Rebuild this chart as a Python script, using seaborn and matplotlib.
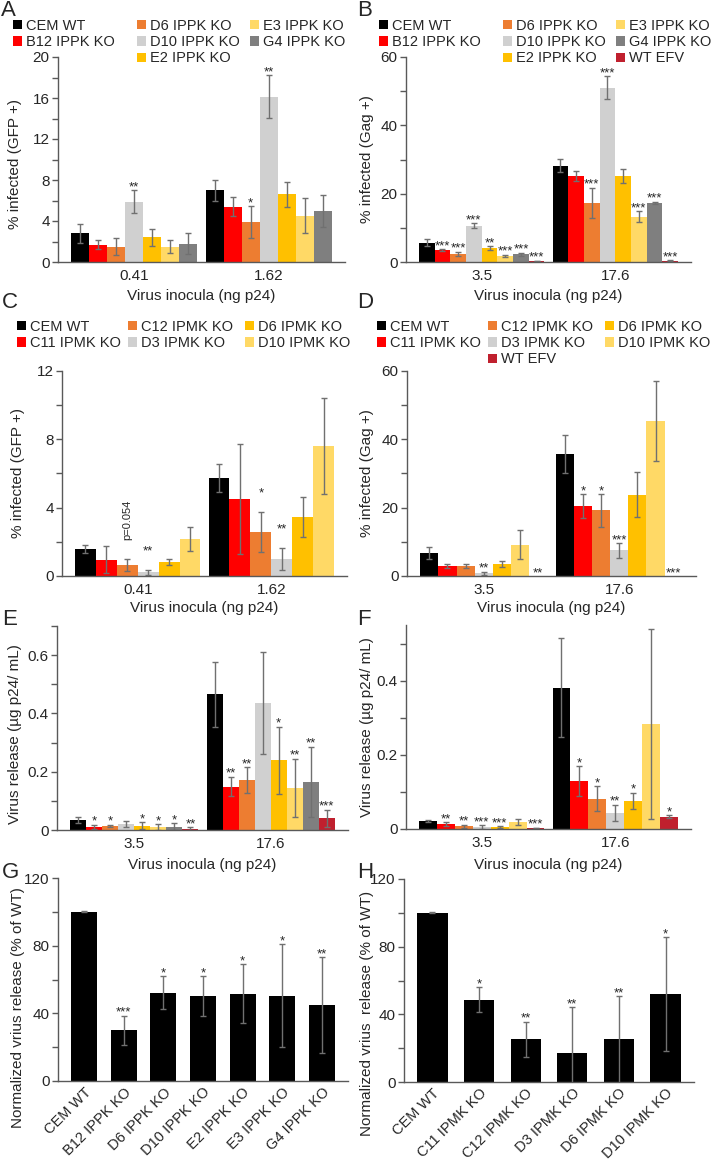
import matplotlib
matplotlib.use("Agg")
import matplotlib.pyplot as plt
import matplotlib.ticker as mticker
from matplotlib.patches import Patch
import pandas as pd
import seaborn as sns

W, H = 712, 1159

# ---- cell lines and colours ----
ippk_lines = ["CEM WT", "B12 IPPK KO", "D6 IPPK KO", "D10 IPPK KO",
              "E2 IPPK KO", "E3 IPPK KO", "G4 IPPK KO"]
ipmk_lines = ["CEM WT", "C11 IPMK KO", "C12 IPMK KO", "D3 IPMK KO",
              "D6 IPMK KO", "D10 IPMK KO"]
efv = "WT EFV"
ippk_colors = ["#000000", "#ff0000", "#ed7d31", "#d0d0d0", "#ffc000", "#ffd966", "#7f7f7f"]
ipmk_colors = ["#000000", "#ff0000", "#ed7d31", "#d0d0d0", "#ffc000", "#ffd966"]
efv_color = "#c0202e"

# ---- A: IPPK KO, GFP+ ----
a_doses = ["0.41", "1.62"]
a_mean = [[2.8, 1.7, 1.5, 5.9, 2.4, 1.5, 1.8],
          [7.0, 5.4, 3.9, 16.1, 6.6, 4.5, 5.0]]
a_err = [[0.9, 0.45, 0.85, 1.1, 0.85, 0.6, 1.0],
         [1.0, 0.9, 1.55, 2.1, 1.2, 1.7, 1.55]]
a_sig = [["", "", "", "**", "", "", ""],
         ["", "", "*", "**", "", "", ""]]

# ---- B: IPPK KO, Gag+ ----
b_doses = ["3.5", "17.6"]
b_mean = [[5.6, 3.5, 2.4, 10.6, 4.1, 1.8, 2.3, 0.35],
          [28.2, 25.1, 17.4, 51.0, 25.1, 13.2, 17.4, 0.4]]
b_err = [[1.0, 0.3, 0.6, 0.75, 0.5, 0.3, 0.4, 0.05],
         [2.0, 1.5, 4.4, 3.4, 2.1, 1.6, 0.3, 0.05]]
b_sig = [["", "***", "***", "***", "**", "***", "***", "***"],
         ["", "", "***", "***", "", "***", "***", "***"]]

# ---- C: IPMK KO, GFP+ ----
c_doses = ["0.41", "1.62"]
c_mean = [[1.58, 0.96, 0.64, 0.22, 0.84, 2.14],
          [5.74, 4.5, 2.58, 1.0, 3.45, 7.6]]
c_err = [[0.23, 0.78, 0.35, 0.15, 0.17, 0.7],
         [0.84, 3.2, 1.17, 0.65, 1.19, 2.8]]
c_sig = [["", "", "p=0.054", "**", "", ""],
         ["", "", "*", "**", "", ""]]

# ---- D: IPMK KO, Gag+ ----
d_doses = ["3.5", "17.6"]
d_mean = [[6.8, 2.9, 2.9, 0.8, 3.5, 9.2, 0.0],
          [35.7, 20.4, 19.2, 7.5, 23.8, 45.4, 0.0]]
d_err = [[1.7, 0.5, 0.5, 0.5, 1.0, 4.3, 0.0],
         [5.6, 3.5, 4.8, 2.1, 6.6, 11.7, 0.0]]
d_sig = [["", "", "", "**", "", "", "**"],
         ["", "*", "*", "***", "", "", "***"]]

# ---- E: IPPK KO, virus release ----
e_doses = ["3.5", "17.6"]
e_mean = [[0.033, 0.010, 0.014, 0.020, 0.014, 0.010, 0.011, 0.005],
          [0.465, 0.149, 0.172, 0.435, 0.239, 0.145, 0.166, 0.040]]
e_err = [[0.010, 0.008, 0.004, 0.010, 0.012, 0.010, 0.012, 0.004],
         [0.110, 0.034, 0.044, 0.175, 0.115, 0.100, 0.120, 0.030]]
e_sig = [["", "*", "*", "", "*", "*", "*", "**"],
         ["", "**", "**", "", "*", "**", "**", "***"]]

# ---- F: IPMK KO, virus release ----
f_doses = ["3.5", "17.6"]
f_mean = [[0.022, 0.013, 0.007, 0.005, 0.005, 0.020, 0.003],
          [0.381, 0.129, 0.082, 0.043, 0.076, 0.283, 0.033]]
f_err = [[0.003, 0.005, 0.004, 0.005, 0.003, 0.008, 0.001],
         [0.133, 0.040, 0.034, 0.022, 0.022, 0.255, 0.004]]
f_sig = [["", "**", "**", "***", "***", "", "***"],
         ["", "*", "*", "**", "*", "", "*"]]

# ---- G / H: normalized release ----
g_mean = [100, 30.0, 52.3, 50.1, 51.5, 50.5, 45.0]
g_err = [0.3, 8.7, 9.8, 11.7, 17.5, 30.5, 28.2]
g_sig = ["", "***", "*", "*", "*", "*", "**"]
h_mean = [100, 48.5, 25.2, 16.9, 25.2, 52.0]
h_err = [0.2, 7.4, 10.4, 27.2, 25.6, 33.7]
h_sig = ["", "*", "**", "**", "**", "*"]

xlab = "Virus inocula (ng p24)"
AXCOL = "#595959"
ERRCOL = "#707070"
GROUP_W = 0.94
FS = 11

sns.set_style("ticks")
plt.rcParams["font.family"] = ["Liberation Sans", "DejaVu Sans"]

fig = plt.figure(figsize=(W / 100, H / 100), dpi=100)


def add_ax(left, top, right, bottom):
    return fig.add_axes([left / W, 1 - bottom / H, (right - left) / W, (bottom - top) / H])


def style(ax, ymax, major, minor):
    sns.despine(ax=ax)
    ax.set_ylim(0, ymax)
    ax.yaxis.set_major_locator(mticker.MultipleLocator(major))
    ax.yaxis.set_minor_locator(mticker.MultipleLocator(minor))
    ax.yaxis.set_major_formatter(mticker.FuncFormatter(lambda v, p: f"{v:g}"))
    ax.tick_params(axis="y", which="both", direction="out", length=4, width=1,
                   color=AXCOL, pad=2, labelsize=FS)
    ax.tick_params(axis="x", length=0, pad=5, labelsize=FS)
    for s in ["left", "bottom"]:
        ax.spines[s].set_color(AXCOL)
        ax.spines[s].set_linewidth(1)


def labels(ax, ylabel, ylab_x, ylab_frac=0.5, xlabel=None, xlab_y=None):
    bb = ax.get_position()
    left, width = bb.x0 * W, bb.width * W
    bottom, height = (1 - bb.y0) * H, bb.height * H
    ax.set_ylabel(ylabel, fontsize=FS)
    ax.yaxis.set_label_coords((ylab_x + 7 - left) / width, ylab_frac)
    if xlabel:
        ax.set_xlabel(xlabel, fontsize=FS)
        ax.xaxis.set_label_coords(0.5, -(xlab_y - 8 - bottom) / height)
    else:
        ax.set_xlabel("")


def mark(ax, cx, top, s, gap):
    if not s:
        return
    if s.startswith("p="):
        ax.annotate(s, (cx, top), xytext=(0, gap + 3), textcoords="offset points",
                    ha="center", va="bottom", rotation=90, fontsize=8)
    else:
        ax.annotate(s, (cx, top), xytext=(0, gap), textcoords="offset points",
                    ha="center", va="baseline", fontsize=9.5)


def grouped(ax, doses, lines, colors, means, errs, sigs, gap=0):
    rows = []
    for d, m_row in zip(doses, means):
        for line, m in zip(lines, m_row):
            rows.append({"dose": d, "line": line, "value": m})
    df = pd.DataFrame(rows)
    sns.barplot(data=df, x="dose", y="value", hue="line", order=doses, hue_order=lines,
                palette=dict(zip(lines, colors)), width=GROUP_W, saturation=1,
                errorbar=None, legend=False, linewidth=0, ax=ax)
    for bar in ax.patches:
        cx = bar.get_x() + bar.get_width() / 2
        i = int(round(cx))
        j = int(round((bar.get_x() - (i - GROUP_W / 2)) / bar.get_width()))
        h = bar.get_height()
        e = errs[i][j]
        if e > 0:
            ax.errorbar(cx, h, yerr=e, fmt="none", ecolor=ERRCOL, elinewidth=1,
                        capsize=2.5, capthick=1)
        mark(ax, cx, h + e, sigs[i][j], gap)


def single(ax, lines, means, errs, sigs):
    sns.barplot(x=lines, y=means, order=lines, color="black", width=0.65,
                saturation=1, errorbar=None, linewidth=0, ax=ax)
    for bar in ax.patches:
        cx = bar.get_x() + bar.get_width() / 2
        i = int(round(cx))
        h = bar.get_height()
        ax.errorbar(cx, h, yerr=errs[i], fmt="none", ecolor=ERRCOL, elinewidth=1,
                    capsize=2.5, capthick=1)
        mark(ax, cx, h + errs[i], sigs[i], 0)
    for t in ax.get_xticklabels():
        t.set_rotation(45)
        t.set_ha("right")
        t.set_rotation_mode("anchor")


def legend_cols(columns, cmap, xs, y_top):
    for names, x in zip(columns, xs):
        handles = [Patch(facecolor=cmap[n], edgecolor="none") for n in names]
        fig.legend(handles, names, loc="upper left",
                   bbox_to_anchor=(x / W, 1 - y_top / H), frameon=False,
                   borderpad=0, borderaxespad=0, handlelength=0.6, handleheight=0.6,
                   handletextpad=0.3, labelspacing=0.15, fontsize=10.5)


ippk_cmap = dict(zip(ippk_lines, ippk_colors))
ippk_cmap[efv] = efv_color
ipmk_cmap = dict(zip(ipmk_lines, ipmk_colors))
ipmk_cmap[efv] = efv_color

# ---- A ----
axA = add_ax(58, 57, 345, 262)
grouped(axA, a_doses, ippk_lines, ippk_colors, a_mean, a_err, a_sig)
style(axA, 20, 4, 2)
labels(axA, "% infected (GFP +)", 15, 0.48, xlab, 297)
legend_cols([ippk_lines[:2], ippk_lines[2:5], ippk_lines[5:]], ippk_cmap, [13, 137, 250], 19)

# ---- B ----
axB = add_ax(406, 57, 691, 262)
grouped(axB, b_doses, ippk_lines + [efv], ippk_colors + [efv_color], b_mean, b_err, b_sig)
style(axB, 60, 20, 10)
labels(axB, "% infected (Gag +)", 367, 0.5, xlab, 297)
legend_cols([ippk_lines[:2], ippk_lines[2:5], ippk_lines[5:] + [efv]], ippk_cmap,
            [379, 503, 616], 19)

# ---- C ----
axC = add_ax(62, 371, 347, 576)
grouped(axC, c_doses, ipmk_lines, ipmk_colors, c_mean, c_err, c_sig, gap=11)
style(axC, 12, 4, 2)
labels(axC, "% infected (GFP +)", 18, 0.5, xlab, 609)
legend_cols([ipmk_lines[:2], ipmk_lines[2:4], ipmk_lines[4:]], ipmk_cmap, [17, 128, 245], 320)

# ---- D ----
axD = add_ax(407, 371, 696, 576)
grouped(axD, d_doses, ipmk_lines + [efv], ipmk_colors + [efv_color], d_mean, d_err, d_sig)
style(axD, 60, 20, 10)
labels(axD, "% infected (Gag +)", 367, 0.5, xlab, 609)
legend_cols([ipmk_lines[:2], ipmk_lines[2:4] + [efv], ipmk_lines[4:]], ipmk_cmap,
            [377, 488, 605], 320)

# ---- E ----
axE = add_ax(57, 626, 348, 830)
grouped(axE, e_doses, ippk_lines + [efv], ippk_colors + [efv_color], e_mean, e_err, e_sig)
style(axE, 0.7, 0.2, 0.1)
labels(axE, "Virus release (µg p24/ mL)", 15, 0.47, xlab, 866)

# ---- F ----
axF = add_ax(406, 625, 691, 829)
grouped(axF, f_doses, ipmk_lines + [efv], ipmk_colors + [efv_color], f_mean, f_err, f_sig)
style(axF, 0.55, 0.2, 0.1)
labels(axF, "Virus release (µg p24/ mL)", 367, 0.5, xlab, 866)

# ---- G ----
axG = add_ax(58, 878, 348, 1081)
single(axG, ippk_lines, g_mean, g_err, g_sig)
style(axG, 120, 40, 20)
axG.tick_params(axis="x", pad=3, labelsize=10.5)
labels(axG, "Normalized vrius release (% of WT)", 18, 0.36)

# ---- H ----
axH = add_ax(404, 879, 694, 1082)
single(axH, ipmk_lines, h_mean, h_err, h_sig)
style(axH, 120, 40, 20)
axH.tick_params(axis="x", pad=3, labelsize=10.5)
labels(axH, "Normalized vrius  release (% of WT)", 367, 0.34)

# panel letters
for letter, x, y in [("A", 1, 0), ("B", 357, 0), ("C", 2, 292), ("D", 357, 292),
                     ("E", 2, 609), ("F", 357, 609), ("G", 2, 862), ("H", 357, 862)]:
    fig.text(x / W, 1 - y / H, letter, fontsize=16, va="top", ha="left")

fig.savefig("out.png", dpi=100)
